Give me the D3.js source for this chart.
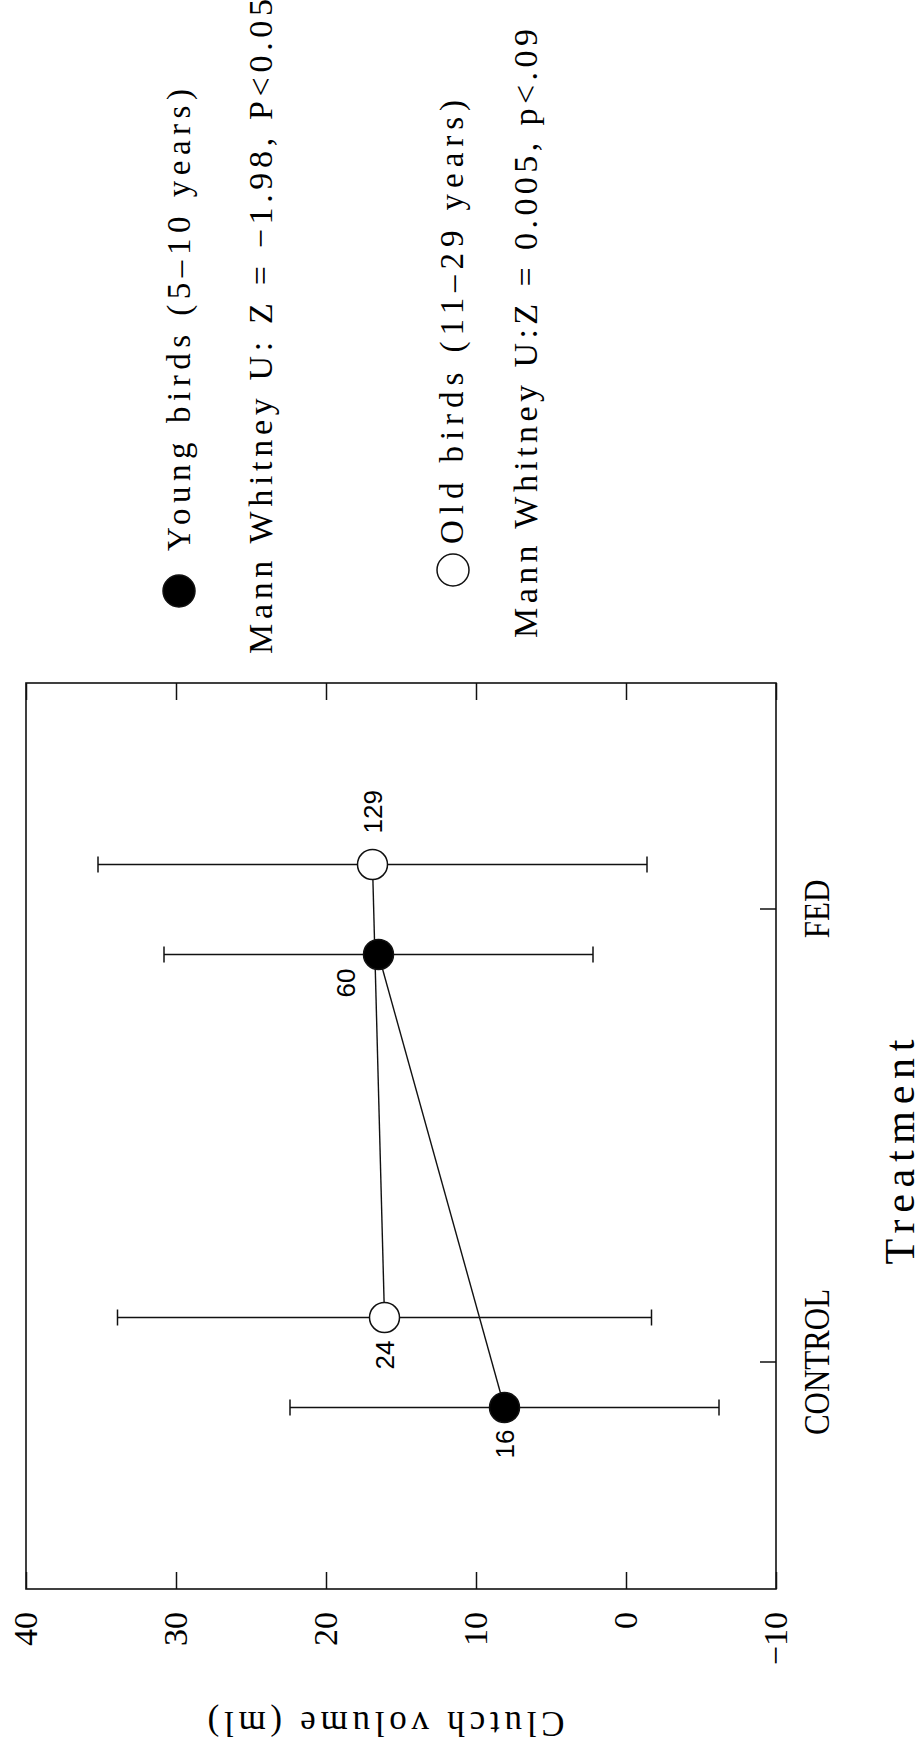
<!DOCTYPE html>
<html>
<head>
<meta charset="utf-8">
<script src="https://cdn.jsdelivr.net/npm/d3@7"></script>
<style>
  body { margin: 0; background: #fff; }
  svg { display: block; }
</style>
</head>
<body>
<div id="chart"></div>
<script>
var categories = ["CONTROL", "FED"]
var youngMean = [8.1, 16.5]
var youngSD = [14.3, 14.3]
var youngN = [16, 60]
var oldMean = [16.1, 16.9]
var oldSD = [17.8, 18.3]
var oldN = [24, 129]
var valueTicks = [-10, 0, 10, 20, 30, 40]
var legendLabels = ["Young birds (5–10 years)", "Old birds (11–29 years)"]
var statLabels = ["Mann Whitney U: Z = −1.98, P<0.05", "Mann Whitney U:Z = 0.005, p<.09"]
var xTitle = "Treatment"
var yTitle = "Clutch volume (ml)"

var W = 922, H = 1762
var serif = "'Liberation Serif', 'Times New Roman', serif"
var sans = "'Liberation Sans', Arial, sans-serif"

var svg = d3.select("#chart").append("svg")
    .attr("width", W)
    .attr("height", H)
svg.append("rect").attr("width", W).attr("height", H).attr("fill", "white")

// the figure was printed sideways: draw it upright, then turn the whole group
var g = svg.append("g").attr("transform", "translate(0," + H + ") rotate(-90)")

var plot = {left: 173, right: 1079, top: 26, bottom: 776}

var x = d3.scalePoint().domain(categories).range([plot.left, plot.right]).padding(0.5)
var y = d3.scaleLinear().domain([-10, 40]).range([plot.bottom, plot.top])

var series = [
    {key: "young", mean: youngMean, sd: youngSD, n: youngN, fill: "black", dodge: -45},
    {key: "old", mean: oldMean, sd: oldSD, n: oldN, fill: "white", dodge: 45}
]
// where each sample size sits next to its point
var nLabelPos = {
    young: [{dx: -22, dy: 0, anchor: "end"}, {dx: -14, dy: -33, anchor: "end"}],
    old: [{dx: -23, dy: 0, anchor: "end"}, {dx: 31, dy: 0, anchor: "start"}]
}

series.forEach(function(s){
    s.points = categories.map(function(c, i){
        return {cat: c, i: i, x: x(c) + s.dodge, m: s.mean[i], sd: s.sd[i], n: s.n[i]}
    })
})

var fmt = function(d){ return d < 0 ? "\u2212" + Math.abs(d) : d }

// value axis, left side (labels) and right side (ticks only)
var yAxis = g.append("g")
    .attr("transform", "translate(" + plot.left + ",0)")
    .call(d3.axisLeft(y).tickValues(valueTicks).tickSize(-17).tickPadding(23).tickFormat(fmt))
yAxis.select(".domain").remove()
yAxis.selectAll("text").attr("font-family", serif).attr("font-size", 34).attr("fill", "black")
yAxis.selectAll("line").attr("stroke", "#111").attr("stroke-width", 1.5)

var yAxis2 = g.append("g")
    .attr("transform", "translate(" + plot.right + ",0)")
    .call(d3.axisRight(y).tickValues(valueTicks).tickSize(-17).tickFormat(""))
yAxis2.select(".domain").remove()
yAxis2.selectAll("line").attr("stroke", "#111").attr("stroke-width", 1.5)

// treatment axis
var xAxis = g.append("g")
    .attr("transform", "translate(0," + plot.bottom + ")")
    .call(d3.axisBottom(x).tickSize(-16).tickPadding(27))
xAxis.select(".domain").remove()
xAxis.selectAll("line").attr("stroke", "#111").attr("stroke-width", 1.5)
xAxis.selectAll("text")
    .attr("font-family", serif)
    .attr("font-size", 36)
    .attr("fill", "black")
    .each(function(){
        var w = this.getComputedTextLength()
        d3.select(this).attr("textLength", w * 0.86).attr("lengthAdjust", "spacingAndGlyphs")
    })

// frame
g.append("rect")
    .attr("x", plot.left)
    .attr("y", plot.top)
    .attr("width", plot.right - plot.left)
    .attr("height", plot.bottom - plot.top)
    .attr("fill", "none")
    .attr("stroke", "#111")
    .attr("stroke-width", 1.6)

// error bars
var capW = 8
series.forEach(function(s){
    var eb = g.append("g").attr("class", "errbars_" + s.key)
        .attr("stroke", "#111").attr("stroke-width", 1.5)
    eb.selectAll(".bar").data(s.points).enter().append("line")
        .attr("x1", function(d){ return d.x })
        .attr("x2", function(d){ return d.x })
        .attr("y1", function(d){ return y(d.m - d.sd) })
        .attr("y2", function(d){ return y(d.m + d.sd) })
    eb.selectAll(".capLo").data(s.points).enter().append("line")
        .attr("x1", function(d){ return d.x - capW })
        .attr("x2", function(d){ return d.x + capW })
        .attr("y1", function(d){ return y(d.m - d.sd) })
        .attr("y2", function(d){ return y(d.m - d.sd) })
    eb.selectAll(".capHi").data(s.points).enter().append("line")
        .attr("x1", function(d){ return d.x - capW })
        .attr("x2", function(d){ return d.x + capW })
        .attr("y1", function(d){ return y(d.m + d.sd) })
        .attr("y2", function(d){ return y(d.m + d.sd) })
})

// connecting lines
var line = d3.line().x(function(d){ return d.x }).y(function(d){ return y(d.m) })
series.forEach(function(s){
    g.append("path")
        .datum(s.points)
        .attr("d", line)
        .attr("fill", "none")
        .attr("stroke", "#111")
        .attr("stroke-width", 1.4)
})

// points + sample sizes
series.forEach(function(s){
    g.append("g").selectAll("circle").data(s.points).enter().append("circle")
        .attr("cx", function(d){ return d.x })
        .attr("cy", function(d){ return y(d.m) })
        .attr("r", 15)
        .attr("fill", s.fill)
        .attr("stroke", "#111")
        .attr("stroke-width", 1.5)

    g.append("g").selectAll("text").data(s.points).enter().append("text")
        .attr("x", function(d){ return d.x + nLabelPos[s.key][d.i].dx })
        .attr("y", function(d){ return y(d.m) + nLabelPos[s.key][d.i].dy })
        .attr("text-anchor", function(d){ return nLabelPos[s.key][d.i].anchor })
        .attr("dominant-baseline", "central")
        .attr("font-family", sans)
        .attr("font-size", 26)
        .text(function(d){ return d.n })
})

// axis titles
g.append("text")
    .attr("x", 610)
    .attr("y", 914)
    .attr("text-anchor", "middle")
    .attr("font-family", serif)
    .attr("font-size", 42)
    .attr("textLength", 225)
    .attr("lengthAdjust", "spacing")
    .text(xTitle)

g.append("text")
    .attr("transform", "translate(50,386) rotate(-90)")
    .attr("text-anchor", "middle")
    .attr("font-family", serif)
    .attr("font-size", 35)
    .attr("textLength", 357)
    .attr("lengthAdjust", "spacing")
    .text(yTitle)

// legend, top right of the upright figure
var legend = [
    {fill: "black", cx: 1171, cy: 179, label: legendLabels[0], lx: 1211, ly: 190, len: 462,
     stat: statLabels[0], sx: 1108, sy: 272, slen: 655},
    {fill: "white", cx: 1192, cy: 453, label: legendLabels[1], lx: 1218, ly: 463, len: 444,
     stat: statLabels[1], sx: 1124, sy: 537, slen: 609}
]
var lg = g.append("g").attr("class", "legend")
legend.forEach(function(l){
    lg.append("circle")
        .attr("cx", l.cx).attr("cy", l.cy).attr("r", 16)
        .attr("fill", l.fill).attr("stroke", "#111").attr("stroke-width", 1.5)
    lg.append("text")
        .attr("x", l.lx).attr("y", l.ly)
        .attr("font-family", serif).attr("font-size", 33)
        .attr("textLength", l.len).attr("lengthAdjust", "spacing")
        .text(l.label)
    lg.append("text")
        .attr("x", l.sx).attr("y", l.sy)
        .attr("font-family", serif).attr("font-size", 34)
        .attr("textLength", l.slen).attr("lengthAdjust", "spacing")
        .text(l.stat)
})
</script>
</body>
</html>
